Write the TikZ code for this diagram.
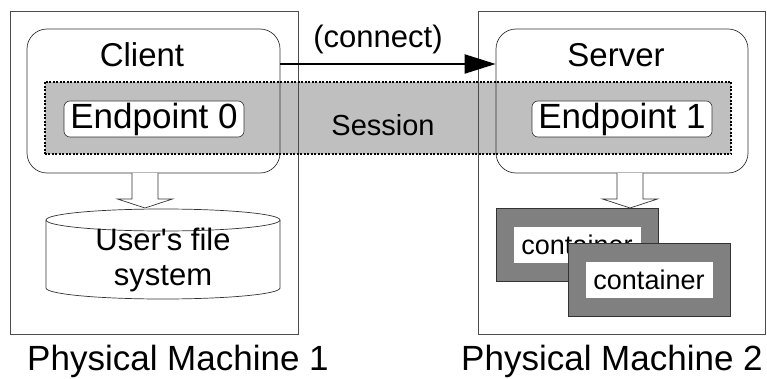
\documentclass[tikz,border=0pt]{standalone}
\usepackage{fontspec}
\setmainfont{Liberation Sans}
\usetikzlibrary{positioning,calc,arrows.meta}

% hollow block arrow from #1 (top) down to tip #2
\newcommand{\blockarrow}[2]{%
  \draw[line width=0.7pt,draw=black!80,fill=white] ($(#1)+(-13,0)$) -- ($(#2)+(-13,9)$) -- ($(#2)+(-27.5,9)$)
    -- (#2) -- ($(#2)+(27.5,9)$) -- ($(#2)+(13,9)$) -- ($(#1)+(13,0)$);
}

\begin{document}
\begin{tikzpicture}[x=1pt, y=1pt, >={Triangle[length=31pt,width=19pt]},
  machine/.style={draw=black!70, line width=0.7pt, minimum width=288, minimum height=323},
  prog/.style={draw=black!80, line width=0.7pt, rounded corners=20, minimum width=253, minimum height=144},
  endpt/.style={draw=black!80, line width=0.6pt, fill=white, rounded corners=6, inner sep=0pt,
    minimum width=180, minimum height=36, font=\fontsize{35}{40}\selectfont},
  ctr/.style={draw=black!80, line width=0.7pt, fill=black!50, minimum width=162, minimum height=73},
  ctrtext/.style={fill=white, inner sep=0pt, minimum width=127, minimum height=36, font=\fontsize{27}{30}\selectfont},
  big/.style={font=\fontsize{33}{38}\selectfont}]
\useasboundingbox (0,0) rectangle (767,378);

% session band (fill first, outlines on top)
\node (ses) [fill=black!25, minimum width=686, minimum height=72] at (388,260) {};

\node (m1) [machine] at (154,205.5) {};
\node (m2) [machine, minimum width=287] at (621.5,205.5) {};
\node (client) [prog] at (153.5,277) {};
\node (server) [prog, minimum width=252] at (622,277) {};

\draw[line width=2pt, dash pattern=on 2pt off 1.5pt] (ses.south west) rectangle (ses.north east);

\node (cltext) [big] at (142,323) {Client};
\node (svtext) [big] at (616,323) {Server};
\node (sestext) [font=\fontsize{29}{34}\selectfont] at (383,253) {Session};

\node (ep0) [endpt] at (154,259) {Endpoint 0};
\node (ep1) [endpt] at (622,259) {Endpoint 1};

\draw[->, line width=2pt] ([yshift=37pt]client.east) -- ([yshift=37pt]server.west)
  node[midway, above=6pt, xshift=-10pt, font=\fontsize{31}{36}\selectfont] {(connect)};

% user's file system
\draw[line width=0.7pt, draw=black!80, fill=white] (46,158) -- (46,90)
  arc[start angle=180, end angle=360, x radius=117, y radius=11] -- (280,158);
\draw[line width=0.7pt, draw=black!80, fill=white] (163,158) ellipse[x radius=117, y radius=11];
\node (fs) [align=center, font=\fontsize{31}{35}\selectfont] at (163,118) {User\textquotesingle s file\\system};

% containers
\node (c1) [ctr] at (577,133.5) {};
\node (c1t) [ctrtext] at (c1) {container};
\node (c2) [ctr] at (649,98) {};
\node (c2t) [ctrtext] at (c2) {container};

\coordinate (a1) at (145,205);
\coordinate (a1t) at (145,170);
\blockarrow{a1}{a1t}
\coordinate (a2) at (630,205);
\coordinate (a2t) at (630,170);
\blockarrow{a2}{a2t}

\node (pm1) [anchor=base, font=\fontsize{35}{40}\selectfont] at (178,8) {Physical Machine 1};
\node (pm2) [anchor=base, font=\fontsize{35}{40}\selectfont] at (612,8) {Physical Machine 2};
\end{tikzpicture}
\end{document}
